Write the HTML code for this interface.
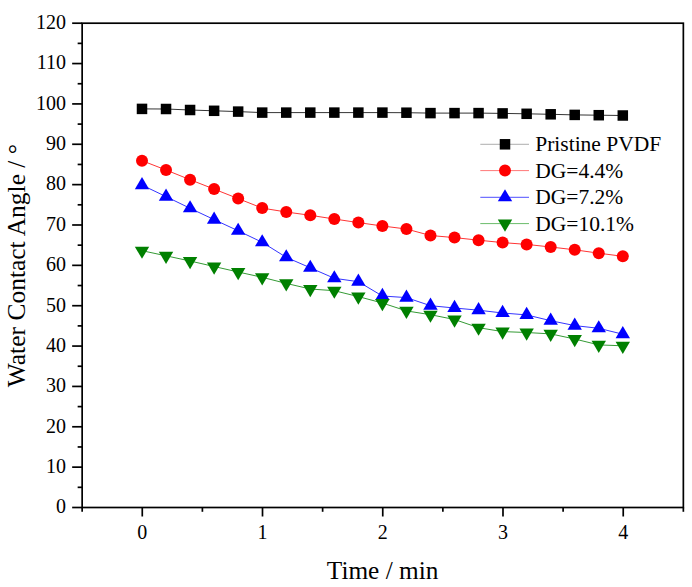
<!DOCTYPE html>
<html><head><meta charset="utf-8"><style>
html,body{margin:0;padding:0;background:#fff;}
svg{display:block;}
text{font-family:"Liberation Serif", serif;fill:#000;}
</style></head><body>
<svg width="692" height="587" viewBox="0 0 692 587">
<rect width="692" height="587" fill="#fff"/>
<rect x="82.15" y="23.2" width="601.2" height="484.3" fill="none" stroke="#000" stroke-width="1.7"/>
<line x1="72.15" y1="507.5" x2="82.15" y2="507.5" stroke="#000" stroke-width="1.7"/>
<line x1="77.65" y1="487.32" x2="82.15" y2="487.32" stroke="#000" stroke-width="1.7"/>
<line x1="72.15" y1="467.14" x2="82.15" y2="467.14" stroke="#000" stroke-width="1.7"/>
<line x1="77.65" y1="446.96" x2="82.15" y2="446.96" stroke="#000" stroke-width="1.7"/>
<line x1="72.15" y1="426.78" x2="82.15" y2="426.78" stroke="#000" stroke-width="1.7"/>
<line x1="77.65" y1="406.6" x2="82.15" y2="406.6" stroke="#000" stroke-width="1.7"/>
<line x1="72.15" y1="386.43" x2="82.15" y2="386.43" stroke="#000" stroke-width="1.7"/>
<line x1="77.65" y1="366.25" x2="82.15" y2="366.25" stroke="#000" stroke-width="1.7"/>
<line x1="72.15" y1="346.07" x2="82.15" y2="346.07" stroke="#000" stroke-width="1.7"/>
<line x1="77.65" y1="325.89" x2="82.15" y2="325.89" stroke="#000" stroke-width="1.7"/>
<line x1="72.15" y1="305.71" x2="82.15" y2="305.71" stroke="#000" stroke-width="1.7"/>
<line x1="77.65" y1="285.53" x2="82.15" y2="285.53" stroke="#000" stroke-width="1.7"/>
<line x1="72.15" y1="265.35" x2="82.15" y2="265.35" stroke="#000" stroke-width="1.7"/>
<line x1="77.65" y1="245.17" x2="82.15" y2="245.17" stroke="#000" stroke-width="1.7"/>
<line x1="72.15" y1="224.99" x2="82.15" y2="224.99" stroke="#000" stroke-width="1.7"/>
<line x1="77.65" y1="204.81" x2="82.15" y2="204.81" stroke="#000" stroke-width="1.7"/>
<line x1="72.15" y1="184.63" x2="82.15" y2="184.63" stroke="#000" stroke-width="1.7"/>
<line x1="77.65" y1="164.45" x2="82.15" y2="164.45" stroke="#000" stroke-width="1.7"/>
<line x1="72.15" y1="144.27" x2="82.15" y2="144.27" stroke="#000" stroke-width="1.7"/>
<line x1="77.65" y1="124.1" x2="82.15" y2="124.1" stroke="#000" stroke-width="1.7"/>
<line x1="72.15" y1="103.92" x2="82.15" y2="103.92" stroke="#000" stroke-width="1.7"/>
<line x1="77.65" y1="83.74" x2="82.15" y2="83.74" stroke="#000" stroke-width="1.7"/>
<line x1="72.15" y1="63.56" x2="82.15" y2="63.56" stroke="#000" stroke-width="1.7"/>
<line x1="77.65" y1="43.38" x2="82.15" y2="43.38" stroke="#000" stroke-width="1.7"/>
<line x1="72.15" y1="23.2" x2="82.15" y2="23.2" stroke="#000" stroke-width="1.7"/>
<line x1="82.15" y1="507.5" x2="82.15" y2="511.8" stroke="#000" stroke-width="1.7"/>
<line x1="142.27" y1="507.5" x2="142.27" y2="516.5" stroke="#000" stroke-width="1.7"/>
<line x1="202.39" y1="507.5" x2="202.39" y2="511.8" stroke="#000" stroke-width="1.7"/>
<line x1="262.51" y1="507.5" x2="262.51" y2="516.5" stroke="#000" stroke-width="1.7"/>
<line x1="322.63" y1="507.5" x2="322.63" y2="511.8" stroke="#000" stroke-width="1.7"/>
<line x1="382.75" y1="507.5" x2="382.75" y2="516.5" stroke="#000" stroke-width="1.7"/>
<line x1="442.87" y1="507.5" x2="442.87" y2="511.8" stroke="#000" stroke-width="1.7"/>
<line x1="502.99" y1="507.5" x2="502.99" y2="516.5" stroke="#000" stroke-width="1.7"/>
<line x1="563.11" y1="507.5" x2="563.11" y2="511.8" stroke="#000" stroke-width="1.7"/>
<line x1="623.23" y1="507.5" x2="623.23" y2="516.5" stroke="#000" stroke-width="1.7"/>
<line x1="683.35" y1="507.5" x2="683.35" y2="511.8" stroke="#000" stroke-width="1.7"/>
<text x="66" y="513.3" text-anchor="end" font-size="20">0</text>
<text x="66" y="472.94" text-anchor="end" font-size="20">10</text>
<text x="66" y="432.58" text-anchor="end" font-size="20">20</text>
<text x="66" y="392.23" text-anchor="end" font-size="20">30</text>
<text x="66" y="351.87" text-anchor="end" font-size="20">40</text>
<text x="66" y="311.51" text-anchor="end" font-size="20">50</text>
<text x="66" y="271.15" text-anchor="end" font-size="20">60</text>
<text x="66" y="230.79" text-anchor="end" font-size="20">70</text>
<text x="66" y="190.43" text-anchor="end" font-size="20">80</text>
<text x="66" y="150.07" text-anchor="end" font-size="20">90</text>
<text x="66" y="109.72" text-anchor="end" font-size="20">100</text>
<text x="66" y="69.36" text-anchor="end" font-size="20">110</text>
<text x="66" y="29" text-anchor="end" font-size="20">120</text>
<text x="142.27" y="538.8" text-anchor="middle" font-size="20">0</text>
<text x="262.51" y="538.8" text-anchor="middle" font-size="20">1</text>
<text x="382.75" y="538.8" text-anchor="middle" font-size="20">2</text>
<text x="502.99" y="538.8" text-anchor="middle" font-size="20">3</text>
<text x="623.23" y="538.8" text-anchor="middle" font-size="20">4</text>
<text x="382.6" y="579.1" text-anchor="middle" font-size="25.3">Time / min</text>
<text transform="translate(24.6,265.6) rotate(-90)" text-anchor="middle" font-size="25.5">Water Contact Angle / °</text>
<polyline points="142,108.9 166.04,109 190.08,110 214.12,110.8 238.16,111.6 262.2,112.6 286.24,112.6 310.28,112.6 334.32,112.6 358.36,112.6 382.4,112.6 406.44,112.7 430.48,113.1 454.52,113.1 478.56,113.1 502.6,113.4 526.64,113.8 550.68,114.3 574.72,114.9 598.76,115.2 622.8,115.5" fill="none" stroke="#000" stroke-width="0.8"/>
<polyline points="142,160.7 166.04,170 190.08,179.7 214.12,189.1 238.16,198.6 262.2,208.1 286.24,212 310.28,215.3 334.32,219 358.36,222.6 382.4,226 406.44,229 430.48,235.5 454.52,237.6 478.56,240.2 502.6,242.6 526.64,244.4 550.68,247 574.72,249.8 598.76,253.2 622.8,256.3" fill="none" stroke="#f00" stroke-width="0.8"/>
<polyline points="142,185.1 166.04,196.6 190.08,208.3 214.12,219.6 238.16,230.8 262.2,242.3 286.24,257.3 310.28,267.8 334.32,278.3 358.36,281.7 382.4,296 406.44,297.6 430.48,305.7 454.52,308 478.56,310.2 502.6,313 526.64,314.9 550.68,320.7 574.72,325.6 598.76,328.3 622.8,334.2" fill="none" stroke="#00f" stroke-width="0.8"/>
<polyline points="142,250.7 166.04,255.8 190.08,261 214.12,266.5 238.16,272 262.2,277.3 286.24,283.4 310.28,289 334.32,290.7 358.36,296.6 382.4,303 406.44,310.9 430.48,314.7 454.52,319.5 478.56,327.7 502.6,331.6 526.64,332.5 550.68,333.9 574.72,339 598.76,344.9 622.8,345.8" fill="none" stroke="#008000" stroke-width="0.8"/>
<rect x="136.75" y="103.65" width="10.5" height="10.5" fill="#000"/>
<rect x="160.79" y="103.75" width="10.5" height="10.5" fill="#000"/>
<rect x="184.83" y="104.75" width="10.5" height="10.5" fill="#000"/>
<rect x="208.87" y="105.55" width="10.5" height="10.5" fill="#000"/>
<rect x="232.91" y="106.35" width="10.5" height="10.5" fill="#000"/>
<rect x="256.95" y="107.35" width="10.5" height="10.5" fill="#000"/>
<rect x="280.99" y="107.35" width="10.5" height="10.5" fill="#000"/>
<rect x="305.03" y="107.35" width="10.5" height="10.5" fill="#000"/>
<rect x="329.07" y="107.35" width="10.5" height="10.5" fill="#000"/>
<rect x="353.11" y="107.35" width="10.5" height="10.5" fill="#000"/>
<rect x="377.15" y="107.35" width="10.5" height="10.5" fill="#000"/>
<rect x="401.19" y="107.45" width="10.5" height="10.5" fill="#000"/>
<rect x="425.23" y="107.85" width="10.5" height="10.5" fill="#000"/>
<rect x="449.27" y="107.85" width="10.5" height="10.5" fill="#000"/>
<rect x="473.31" y="107.85" width="10.5" height="10.5" fill="#000"/>
<rect x="497.35" y="108.15" width="10.5" height="10.5" fill="#000"/>
<rect x="521.39" y="108.55" width="10.5" height="10.5" fill="#000"/>
<rect x="545.43" y="109.05" width="10.5" height="10.5" fill="#000"/>
<rect x="569.47" y="109.65" width="10.5" height="10.5" fill="#000"/>
<rect x="593.51" y="109.95" width="10.5" height="10.5" fill="#000"/>
<rect x="617.55" y="110.25" width="10.5" height="10.5" fill="#000"/>
<circle cx="142" cy="160.7" r="6" fill="#f00"/>
<circle cx="166.04" cy="170" r="6" fill="#f00"/>
<circle cx="190.08" cy="179.7" r="6" fill="#f00"/>
<circle cx="214.12" cy="189.1" r="6" fill="#f00"/>
<circle cx="238.16" cy="198.6" r="6" fill="#f00"/>
<circle cx="262.2" cy="208.1" r="6" fill="#f00"/>
<circle cx="286.24" cy="212" r="6" fill="#f00"/>
<circle cx="310.28" cy="215.3" r="6" fill="#f00"/>
<circle cx="334.32" cy="219" r="6" fill="#f00"/>
<circle cx="358.36" cy="222.6" r="6" fill="#f00"/>
<circle cx="382.4" cy="226" r="6" fill="#f00"/>
<circle cx="406.44" cy="229" r="6" fill="#f00"/>
<circle cx="430.48" cy="235.5" r="6" fill="#f00"/>
<circle cx="454.52" cy="237.6" r="6" fill="#f00"/>
<circle cx="478.56" cy="240.2" r="6" fill="#f00"/>
<circle cx="502.6" cy="242.6" r="6" fill="#f00"/>
<circle cx="526.64" cy="244.4" r="6" fill="#f00"/>
<circle cx="550.68" cy="247" r="6" fill="#f00"/>
<circle cx="574.72" cy="249.8" r="6" fill="#f00"/>
<circle cx="598.76" cy="253.2" r="6" fill="#f00"/>
<circle cx="622.8" cy="256.3" r="6" fill="#f00"/>
<path d="M142 176.97L149.2 189.17L134.8 189.17Z" fill="#00f"/>
<path d="M166.04 188.47L173.24 200.67L158.84 200.67Z" fill="#00f"/>
<path d="M190.08 200.17L197.28 212.37L182.88 212.37Z" fill="#00f"/>
<path d="M214.12 211.47L221.32 223.67L206.92 223.67Z" fill="#00f"/>
<path d="M238.16 222.67L245.36 234.87L230.96 234.87Z" fill="#00f"/>
<path d="M262.2 234.17L269.4 246.37L255 246.37Z" fill="#00f"/>
<path d="M286.24 249.17L293.44 261.37L279.04 261.37Z" fill="#00f"/>
<path d="M310.28 259.67L317.48 271.87L303.08 271.87Z" fill="#00f"/>
<path d="M334.32 270.17L341.52 282.37L327.12 282.37Z" fill="#00f"/>
<path d="M358.36 273.57L365.56 285.77L351.16 285.77Z" fill="#00f"/>
<path d="M382.4 287.87L389.6 300.07L375.2 300.07Z" fill="#00f"/>
<path d="M406.44 289.47L413.64 301.67L399.24 301.67Z" fill="#00f"/>
<path d="M430.48 297.57L437.68 309.77L423.28 309.77Z" fill="#00f"/>
<path d="M454.52 299.87L461.72 312.07L447.32 312.07Z" fill="#00f"/>
<path d="M478.56 302.07L485.76 314.27L471.36 314.27Z" fill="#00f"/>
<path d="M502.6 304.87L509.8 317.07L495.4 317.07Z" fill="#00f"/>
<path d="M526.64 306.77L533.84 318.97L519.44 318.97Z" fill="#00f"/>
<path d="M550.68 312.57L557.88 324.77L543.48 324.77Z" fill="#00f"/>
<path d="M574.72 317.47L581.92 329.67L567.52 329.67Z" fill="#00f"/>
<path d="M598.76 320.17L605.96 332.37L591.56 332.37Z" fill="#00f"/>
<path d="M622.8 326.07L630 338.27L615.6 338.27Z" fill="#00f"/>
<path d="M142 258.83L149.2 246.63L134.8 246.63Z" fill="#008000"/>
<path d="M166.04 263.93L173.24 251.73L158.84 251.73Z" fill="#008000"/>
<path d="M190.08 269.13L197.28 256.93L182.88 256.93Z" fill="#008000"/>
<path d="M214.12 274.63L221.32 262.43L206.92 262.43Z" fill="#008000"/>
<path d="M238.16 280.13L245.36 267.93L230.96 267.93Z" fill="#008000"/>
<path d="M262.2 285.43L269.4 273.23L255 273.23Z" fill="#008000"/>
<path d="M286.24 291.53L293.44 279.33L279.04 279.33Z" fill="#008000"/>
<path d="M310.28 297.13L317.48 284.93L303.08 284.93Z" fill="#008000"/>
<path d="M334.32 298.83L341.52 286.63L327.12 286.63Z" fill="#008000"/>
<path d="M358.36 304.73L365.56 292.53L351.16 292.53Z" fill="#008000"/>
<path d="M382.4 311.13L389.6 298.93L375.2 298.93Z" fill="#008000"/>
<path d="M406.44 319.03L413.64 306.83L399.24 306.83Z" fill="#008000"/>
<path d="M430.48 322.83L437.68 310.63L423.28 310.63Z" fill="#008000"/>
<path d="M454.52 327.63L461.72 315.43L447.32 315.43Z" fill="#008000"/>
<path d="M478.56 335.83L485.76 323.63L471.36 323.63Z" fill="#008000"/>
<path d="M502.6 339.73L509.8 327.53L495.4 327.53Z" fill="#008000"/>
<path d="M526.64 340.63L533.84 328.43L519.44 328.43Z" fill="#008000"/>
<path d="M550.68 342.03L557.88 329.83L543.48 329.83Z" fill="#008000"/>
<path d="M574.72 347.13L581.92 334.93L567.52 334.93Z" fill="#008000"/>
<path d="M598.76 353.03L605.96 340.83L591.56 340.83Z" fill="#008000"/>
<path d="M622.8 353.93L630 341.73L615.6 341.73Z" fill="#008000"/>
<line x1="480.3" y1="144.3" x2="529" y2="144.3" stroke="#999" stroke-width="0.8"/>
<rect x="499.75" y="139.05" width="10.5" height="10.5" fill="#000"/>
<line x1="480.3" y1="170.6" x2="529" y2="170.6" stroke="#f55" stroke-width="0.8"/>
<circle cx="505" cy="170.6" r="6" fill="#f00"/>
<line x1="480.3" y1="197.3" x2="529" y2="197.3" stroke="#22f" stroke-width="0.8"/>
<path d="M505 189.17L512.2 201.37L497.8 201.37Z" fill="#00f"/>
<line x1="480.3" y1="223.6" x2="529" y2="223.6" stroke="#4a4" stroke-width="0.8"/>
<path d="M505 231.73L512.2 219.53L497.8 219.53Z" fill="#008000"/>
<text transform="translate(535.2,150.8) scale(1.05,1)" font-size="20.5">Pristine PVDF</text>
<text transform="translate(535.2,177.5) scale(1.05,1)" font-size="20.5">DG=4.4%</text>
<text transform="translate(535.2,204.4) scale(1.05,1)" font-size="20.5">DG=7.2%</text>
<text transform="translate(535.2,230.9) scale(1.05,1)" font-size="20.5">DG=10.1%</text>
</svg>
</body></html>
